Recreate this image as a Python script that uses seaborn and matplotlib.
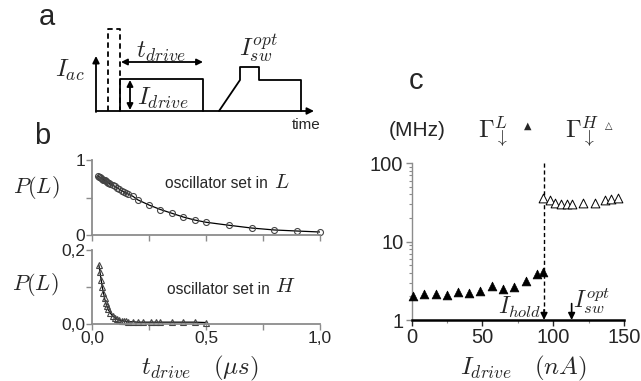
import numpy as np
import pandas as pd
import matplotlib
matplotlib.use("Agg")
import matplotlib.pyplot as plt
import seaborn as sns
from matplotlib.ticker import FixedLocator, FixedFormatter, LogLocator, NullFormatter

# ---------------- data ----------------
# panel b, oscillator set in L
t_L = [0.025, 0.03, 0.035, 0.04, 0.045, 0.05, 0.055, 0.06, 0.065, 0.07, 0.075, 0.08,
       0.09, 0.10, 0.11, 0.12, 0.13, 0.14, 0.15, 0.16, 0.18, 0.20, 0.25, 0.30, 0.35,
       0.40, 0.45, 0.50, 0.60, 0.70, 0.80, 0.90, 1.00]
P_L = [0.79, 0.78, 0.77, 0.76, 0.75, 0.74, 0.73, 0.72, 0.71, 0.70, 0.69, 0.68,
       0.665, 0.65, 0.63, 0.61, 0.59, 0.575, 0.56, 0.545, 0.515, 0.47, 0.40, 0.34, 0.29,
       0.24, 0.20, 0.17, 0.13, 0.093, 0.067, 0.053, 0.04]
# panel b, oscillator set in H
t_H = [0.03, 0.035, 0.04, 0.045, 0.05, 0.055, 0.06, 0.065, 0.07, 0.08, 0.09, 0.10,
       0.11, 0.12, 0.13, 0.14, 0.15, 0.16, 0.18, 0.20, 0.225, 0.26, 0.28, 0.30, 0.35,
       0.40, 0.45, 0.50]
P_H = [0.16, 0.14, 0.12, 0.10, 0.085, 0.07, 0.058, 0.048, 0.04, 0.03, 0.022, 0.017,
       0.013, 0.011, 0.009, 0.008, 0.007, 0.006, 0.006, 0.005, 0.005, 0.005, 0.005,
       0.005, 0.005, 0.005, 0.005, 0.004]
# panel c
I_L = [1, 9, 17, 25, 32.5, 40.5, 48, 56.5, 64.5, 72.5, 80.5, 88.5, 93]
G_L = [2.05, 2.17, 2.15, 2.09, 2.29, 2.20, 2.33, 2.75, 2.50, 2.65, 3.19, 3.81, 4.09]
I_H = [93.1, 97.9, 101.4, 105.4, 109.7, 113.6, 121.0, 129.2, 136.8, 140.8, 145.5]
G_H = [36.3, 33.9, 31.3, 30.4, 30.4, 29.8, 30.7, 31.3, 34.5, 35.2, 36.3]
I_hold = 93.5
I_sw_opt = 113.0

# panel a schematic (time units, current units)
dash_t = [12, 12, 24, 24]
dash_i = [0, 82, 82, 0]
drive_t = [24, 24, 107, 107]
drive_i = [0, 32, 32, 0]
read_t = [123, 144, 144, 163, 163, 205, 205]
read_i = [0, 31, 44, 44, 31, 31, 0]

# ---------------- style ----------------
sns.set_style("white")
plt.rcParams['font.family'] = ['Liberation Sans', 'DejaVu Sans']
plt.rcParams['mathtext.fontset'] = 'cm'

W, H = 641, 381
fig = plt.figure(figsize=(W / 100, H / 100), dpi=100)


def rect(x0, y_top, x1, y_bot):
    return [x0 / W, 1 - y_bot / H, (x1 - x0) / W, (y_bot - y_top) / H]


def ftxt(x, y, s, **kw):
    fig.text(x / W, 1 - y / H, s, ha=kw.pop('ha', 'center'), va=kw.pop('va', 'center'), **kw)


# ---------------- panel a ----------------
axa = fig.add_axes(rect(96, 29, 313, 111))
axa.set_xlim(0, 217)
axa.set_ylim(0, 82)
axa.axis('off')
axa.plot(dash_t, dash_i, color='black', lw=1.3, ls=(0, (3, 2)), clip_on=False)
axa.plot(drive_t, drive_i, color='black', lw=1.3, clip_on=False)
axa.plot(read_t, read_i, color='black', lw=1.3, clip_on=False)
ap = dict(arrowstyle='-|>', color='black', lw=1.3, mutation_scale=10, shrinkA=0, shrinkB=0)
axa.annotate('', xy=(0, 55), xytext=(0, -1), arrowprops=ap, annotation_clip=False)
axa.annotate('', xy=(218, 0), xytext=(0, 0), arrowprops=ap, annotation_clip=False)
ap2 = dict(arrowstyle='<|-|>', color='black', lw=1.3, mutation_scale=9, shrinkA=0, shrinkB=0)
axa.annotate('', xy=(25, 49), xytext=(107, 49), arrowprops=ap2, annotation_clip=False)
axa.annotate('', xy=(34, 1), xytext=(34, 31), arrowprops=ap2, annotation_clip=False)

ftxt(47, 17, 'a', fontsize=21)
ftxt(70, 70, r'$I_{ac}$', fontsize=18)
ftxt(161, 52, r'$t_{drive}$', fontsize=18)
ftxt(258, 48, r'$I_{sw}^{opt}$', fontsize=18)
ftxt(163, 98, r'$I_{drive}$', fontsize=18)
ftxt(306, 125, 'time', fontsize=11)

# ---------------- panel b ----------------
ftxt(42, 136, 'b', fontsize=21)
gray = '#8c8c8c'

axb1 = fig.add_axes(rect(92, 160, 320, 235))
dfL = pd.DataFrame({'t': t_L, 'P': P_L})
sns.lineplot(data=dfL, x='t', y='P', ax=axb1, color='black', lw=0.9)
axb1.plot(t_L, P_L, ls='none', marker='o', ms=4.3, mfc='none', mec='#444444', mew=0.8, clip_on=False)
axb1.set_xlim(0, 1.0)
axb1.set_ylim(0, 1.0)

axb2 = fig.add_axes(rect(92, 250, 320, 324))
dfH = pd.DataFrame({'t': t_H, 'P': P_H})
sns.lineplot(data=dfH, x='t', y='P', ax=axb2, color='black', lw=0.9)
axb2.plot(t_H, P_H, ls='none', marker='^', ms=5, mfc='none', mec='#444444', mew=0.8, clip_on=False)
axb2.set_xlim(0, 1.0)
axb2.set_ylim(0, 0.2)

for ax in (axb1, axb2):
    for s in ('top', 'right'):
        ax.spines[s].set_visible(False)
    for s in ('left', 'bottom'):
        ax.spines[s].set_color(gray)
        ax.spines[s].set_linewidth(1.3)
    ax.set_xlabel('')
    ax.set_ylabel('')
    ax.tick_params(axis='both', direction='out', length=4, width=1, color=gray,
                   labelsize=12.5, pad=1, left=True, bottom=True)
    ax.xaxis.set_major_locator(FixedLocator([0, 0.25, 0.5, 0.75, 1.0]))

axb1.xaxis.set_major_formatter(NullFormatter())
axb1.yaxis.set_major_locator(FixedLocator([0, 0.5, 1.0]))
axb1.yaxis.set_major_formatter(FixedFormatter(['0', '', '1']))
axb2.xaxis.set_major_formatter(FixedFormatter(['0,0', '', '0,5', '', '1,0']))
axb2.yaxis.set_major_locator(FixedLocator([0, 0.1, 0.2]))
axb2.yaxis.set_major_formatter(FixedFormatter(['0,0', '', '0,2']))

ftxt(36, 188, r'$P(L)$', fontsize=16)
ftxt(35, 285, r'$P(L)$', fontsize=16)
ftxt(165, 184, 'oscillator set in', fontsize=11.2, ha='left')
ftxt(274, 182, r'$L$', fontsize=15, ha='left')
ftxt(167, 289, 'oscillator set in', fontsize=11.2, ha='left')
ftxt(275, 287, r'$H$', fontsize=15, ha='left')
ftxt(200, 368, r'$t_{drive}\quad(\mu s)$', fontsize=18)

# ---------------- panel c ----------------
ftxt(416, 81, 'c', fontsize=21)
ftxt(417, 130, '(MHz)', fontsize=15)
ftxt(493, 132, r'$\Gamma_{\downarrow}^{L}$', fontsize=18)
ftxt(528, 126, '▲', fontsize=7, family=['DejaVu Sans'])
ftxt(582, 132, r'$\Gamma_{\downarrow}^{H}$', fontsize=18)
ftxt(609, 126, '△', fontsize=7, family=['DejaVu Sans'])

axc = fig.add_axes(rect(411.7, 163.3, 624, 320))
dfC_L = pd.DataFrame({'I': I_L, 'G': G_L})
dfC_H = pd.DataFrame({'I': I_H, 'G': G_H})
sns.scatterplot(data=dfC_L, x='I', y='G', ax=axc, marker='^', s=40, color='black',
                edgecolor='black', linewidth=0.5, clip_on=False, zorder=3)
sns.scatterplot(data=dfC_H, x='I', y='G', ax=axc, marker='^', s=40, facecolor='white',
                edgecolor='black', linewidth=0.7, clip_on=False, zorder=3)
axc.set_yscale('log')
axc.set_ylim(1, 100)
axc.set_xlim(0, 150)
axc.set_xlabel('')
axc.set_ylabel('')
for s in ('top', 'right'):
    axc.spines[s].set_visible(False)
axc.spines['left'].set_color(gray)
axc.spines['left'].set_linewidth(1.0)
axc.spines['bottom'].set_color('black')
axc.spines['bottom'].set_linewidth(1.8)
axc.xaxis.set_major_locator(FixedLocator([0, 50, 100, 150]))
axc.xaxis.set_minor_locator(FixedLocator([25, 75, 125]))
axc.yaxis.set_major_locator(FixedLocator([1, 10, 100]))
axc.yaxis.set_major_formatter(FixedFormatter(['1', '10', '100']))
axc.yaxis.set_minor_locator(LogLocator(base=10, subs=np.arange(2, 10)))
axc.yaxis.set_minor_formatter(NullFormatter())
axc.tick_params(axis='both', which='major', direction='out', length=4, width=1,
                labelsize=14.5, pad=2, left=True, bottom=True)
axc.tick_params(axis='y', which='major', color=gray)
axc.tick_params(axis='both', which='minor', direction='out', length=2, width=0.8,
                color=gray, left=True, bottom=True)

axc.plot([I_hold, I_hold], [100, 1.32], color='black', lw=1.0, ls=(0, (3, 2)))
ap3 = dict(arrowstyle='-|>', color='black', lw=1.2, mutation_scale=10, shrinkA=0, shrinkB=0)
axc.annotate('', xy=(I_hold, 1.0), xytext=(I_hold, 1.35), arrowprops=ap3, annotation_clip=False)
axc.annotate('', xy=(I_sw_opt, 1.0), xytext=(I_sw_opt, 1.62), arrowprops=ap3, annotation_clip=False)
axc.text(I_hold - 2, 1.45, r'$I_{hold}$', fontsize=17, ha='right', va='center')
axc.text(I_sw_opt + 1, 1.75, r'$I_{sw}^{opt}$', fontsize=17, ha='left', va='center')

ftxt(523, 368, r'$I_{drive}\quad(nA)$', fontsize=18)

fig.savefig('out.png', dpi=100)
